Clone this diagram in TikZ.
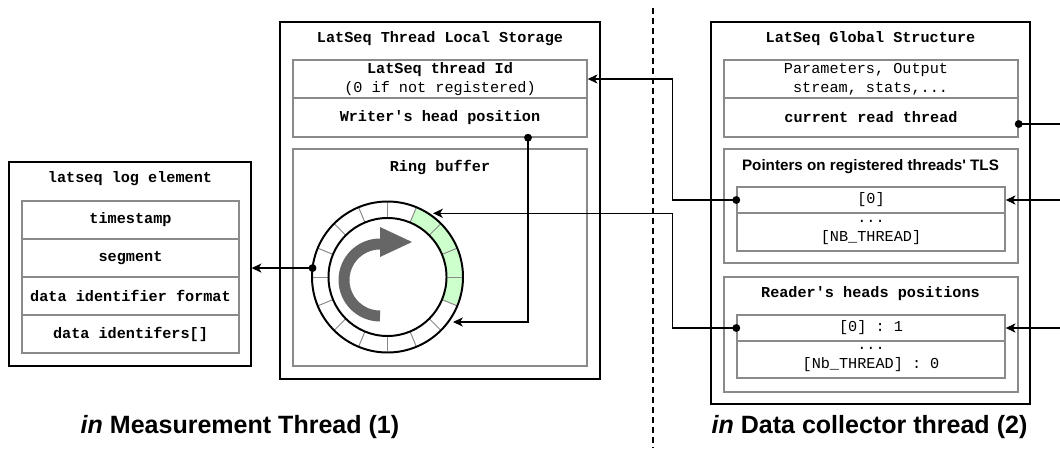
\documentclass[tikz,border=0pt]{standalone}
\usepackage{fontspec}
\setmainfont{Liberation Sans}
\setsansfont{Liberation Sans}
\setmonofont{Liberation Mono}
\usetikzlibrary{arrows.meta, positioning, calc, fit}

\definecolor{cellgray}{HTML}{8A8A8A}
\definecolor{slotgreen}{HTML}{CCFFCC}
\definecolor{spingray}{HTML}{666666}

\tikzset{
    outerbox/.style={draw=black, line width=0.9pt, inner sep=0pt},
    cell/.style={draw=cellgray, line width=1pt, inner sep=0pt},
    lbl/.style={font=\fontsize{10.8pt}{13.5pt}\selectfont\ttfamily, align=center, inner sep=0pt},
    boldlbl/.style={lbl, font=\fontsize{10.8pt}{13.5pt}\selectfont\ttfamily\bfseries},
    sanslbl/.style={lbl, font=\fontsize{10.8pt}{13.5pt}\selectfont\sffamily\bfseries},
    footlbl/.style={font=\fontsize{17.8pt}{20pt}\selectfont\sffamily\bfseries, anchor=base, inner sep=0pt},
    link/.style={draw, line width=0.9pt, -{Stealth[length=7pt, width=6.5pt, inset=2pt]}},
    wire/.style={draw, line width=0.9pt}
}

\begin{document}
\begin{tikzpicture}[x=0.025cm, y=-0.025cm]
    \useasboundingbox (0,0) rectangle (1060,448);

    % log element
    \node[outerbox, fit={(9,162) (251,366)}] (logbox) {};
    \node[boldlbl] at (130,179) {latseq log element};
    \node[cell, fit={(22,201) (239,239)}] (tsrow) {};
    \node[boldlbl] at (tsrow) {timestamp};
    \node[cell, fit={(22,239) (239,277)}] (segrow) {};
    \node[boldlbl] at (segrow) {segment};
    \node[cell, fit={(22,277) (239,315)}] (fmtrow) {};
    \node[boldlbl] at (fmtrow) {data identifier format};
    \node[cell, fit={(22,315) (239,353)}] (idsrow) {};
    \node[boldlbl] at (idsrow) {data identifers[]};

    % thread local storage
    \node[outerbox, fit={(280,22) (600,379)}] (tlsbox) {};
    \node[boldlbl] at (440,39) {LatSeq Thread Local Storage};
    \node[cell, fit={(293,60) (587,98)}] (tidrow) {};
    \node[lbl] at (tidrow) {\textbf{LatSeq thread Id}\\(0 if not registered)};
    \node[cell, fit={(293,98) (587,137)}] (wheadrow) {};
    \node[boldlbl] at (wheadrow) {Writer's head position};
    \node[cell, fit={(293,149) (587,366)}] (ringbox) {};
    \node[boldlbl] at (440,167) {Ring buffer};

    % ring
    \coordinate (rc) at (387.5,277);
    \fill[slotgreen] ($(rc)+(-67.5:75.5)$) arc[start angle=-67.5, end angle=22.5, radius=75.5]
        -- ($(rc)+(22.5:59)$) arc[start angle=22.5, end angle=-67.5, radius=59] -- cycle;
    \foreach \a in {0,22.5,...,337.5}
        \draw[cellgray, line width=0.7pt] ($(rc)+(\a:59)$) -- ($(rc)+(\a:75.5)$);
    \draw[line width=1.4pt] (rc) circle[radius=75.5] (rc) circle[radius=59];
    \draw[spingray, line width=7.8pt] (380,316) arc[start angle=90, end angle=270, radius=36];
    \fill[spingray] (380,227) -- (412,242) -- (380,257) -- cycle;

    % global structure
    \node[outerbox, fit={(711,22) (1030,404)}] (gbox) {};
    \node[boldlbl] at (870.5,39) {LatSeq Global Structure};
    \node[cell, fit={(724,60) (1018,98)}] (paramrow) {};
    \node[lbl, align=right] at (866,79.5) {Parameters, Output\\stream, stats,...};
    \node[cell, fit={(724,98) (1018,137)}] (readrow) {};
    \node[boldlbl] at (readrow) {current read thread};
    \node[cell, fit={(724,149) (1018,263)}] (ptrbox) {};
    \node[sanslbl] at (870.5,167) {Pointers on registered threads\textquotesingle{} TLS};
    \node[cell, fit={(737,187) (1005,213)}] (ptr0) {};
    \node[lbl] at (ptr0) {[0]};
    \node[cell, fit={(737,213) (1005,251)}] (ptrn) {};
    \node[lbl] at (ptrn) {...\\{[NB\_THREAD]}};
    \node[cell, fit={(724,277) (1018,392)}] (rdbox) {};
    \node[boldlbl] at (870.5,294) {Reader's heads positions};
    \node[cell, fit={(737,315) (1005,341)}] (rd0) {};
    \node[lbl] at (rd0) {[0] : 1};
    \node[cell, fit={(737,341) (1005,378)}] (rdn) {};
    \node[lbl] at (rdn) {...\\{[Nb\_THREAD] : 0}};

    % thread split
    \draw[line width=1.4pt, dash pattern=on 4.3pt off 2.8pt] (653,8) -- (653,448);

    % connectors
    \coordinate (ringW) at ($(rc)+(186.8:75.5)$);
    \coordinate (ringNE) at (433,213.3);
    \coordinate (ringSE) at (453,322);
    \coordinate (wdot) at ($(wheadrow.south)+(88,0)$);
    \coordinate (rdot) at ($(readrow.east)+(0,6.5)$);
    \coordinate (offR) at (1060,124);
    \coordinate (offP) at (1060,200);
    \coordinate (offQ) at (1060,328);

    \draw[link] (ringW) -- (logbox.east |- ringW);
    \fill (ringW) circle[radius=2.8pt];
    \draw[link] (wdot) |- (ringSE);
    \fill (wdot) circle[radius=2.8pt];
    \draw[link] (ptr0.west) -- ++(-64,0) |- (tidrow.east);
    \fill (ptr0.west) circle[radius=2.8pt];
    \draw[link] (rd0.west) -- ++(-64,0) |- (ringNE);
    \fill (rd0.west) circle[radius=2.8pt];
    \draw[wire] (rdot) -- (offR);
    \fill (rdot) circle[radius=2.8pt];
    \draw[link] (offP) -- (ptr0.east);
    \draw[link] (offQ) -- (rd0.east);

    % thread labels
    \node[footlbl] (mlabel) at (240,433) {\textit{in} Measurement Thread (1)};
    \node[footlbl] (clabel) at (869.5,433) {\textit{in} Data collector thread (2)};
\end{tikzpicture}
\end{document}
